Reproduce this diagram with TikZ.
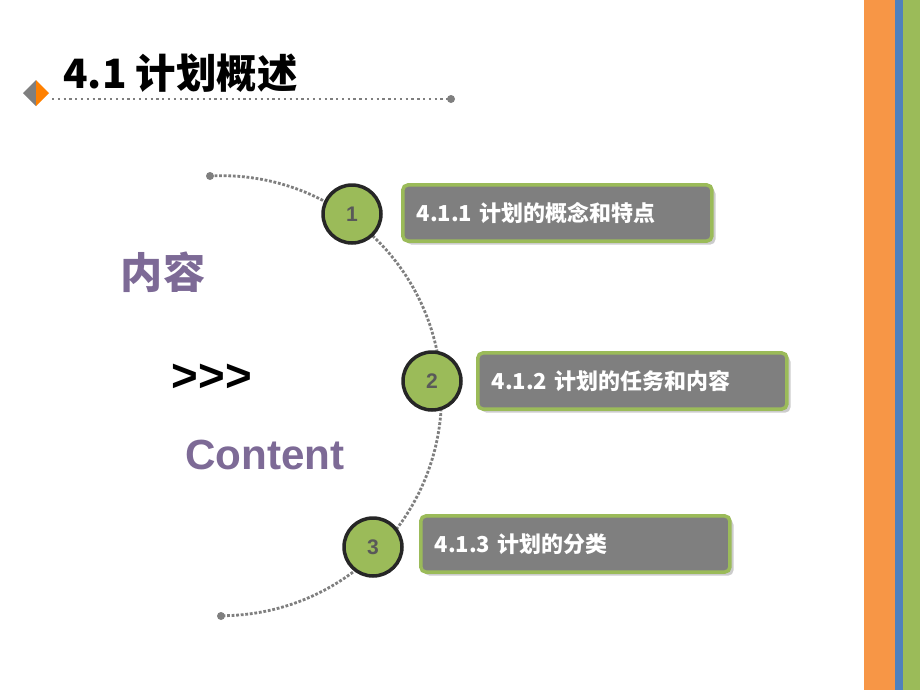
\documentclass[tikz,border=0pt]{standalone}
\usepackage{fontspec}
\setmainfont{Liberation Sans}
\newfontfamily\cjk{Noto Sans CJK SC}
\usetikzlibrary{shadows}
\definecolor{leaf}{HTML}{9BBB59}
\definecolor{tang}{HTML}{F79646}
\definecolor{sky}{HTML}{4F81BD}
\definecolor{plum}{HTML}{7D6A96}
\definecolor{slate}{HTML}{7F7F7F}
\tikzset{
  numdot/.style={circle,draw=black!85,line width=2pt,fill=leaf,minimum size=33pt,inner sep=0pt,
    font=\bfseries\fontsize{12}{12}\selectfont,text=slate!70!black},
  item/.style={rounded corners=3pt,draw=leaf,line width=2pt,fill=slate,
    minimum width=176pt,minimum height=32pt,anchor=west,text=white,
    font=\cjk\bfseries\fontsize{12.5}{12.5}\selectfont,text width=160pt,align=left,
    drop shadow={shadow xshift=2pt,shadow yshift=-2pt,opacity=0.4}},
}
\begin{document}
\begin{tikzpicture}[x=0.02cm,y=-0.02cm]
        \useasboundingbox (0,0) rectangle (920,690);
        % side stripes
        \fill[tang] (864,0) rectangle (895,690);
        \fill[sky] (895,0) rectangle (903,690);
        \fill[leaf] (903,0) rectangle (920,690);
        % title
        \node[anchor=west,font=\cjk\bfseries\fontsize{23}{23}\selectfont] (title) at (57,73) {4.1 计划概述};
        \fill[slate] (36,80) -- (23,93) -- (36,106) -- cycle;
        \fill[orange] (36,80) -- (49,93) -- (36,106) -- cycle;
        \coordinate (rs) at (52,99);
        \coordinate (re) at (451,99);
        \draw[slate,line width=1.3pt,dotted] (rs) -- (re);
        \fill[slate] (re) circle(4);
        % arc
        \coordinate (top) at (210,176);
        \coordinate (bot) at (221,616);
        \draw[slate,line width=1.6pt,densely dotted] (top) arc[start angle=-93,end angle=90,radius=220];
        \fill[slate] (top) circle(4);
        \fill[slate] (bot) circle(4);
        % left texts
        \node[text=plum,font=\cjk\bfseries\fontsize{24}{24}\selectfont] (nr) at (163,272) {内容};
        \node[font=\bfseries\fontsize{26}{26}\selectfont] (arr) at (212,378) {>{}>{}>};
        \node[text=plum,font=\bfseries\fontsize{24}{24}\selectfont] (ct) at (265,455) {Content};
        % steps
        \foreach \n/\x/\y/\bx/\by/\t in {1/352/214/401/213/4.1.1 计划的概念和特点,
          2/432/381/476/381/4.1.2 计划的任务和内容,
          3/373/547/419/544/4.1.3 计划的分类} {
            \node[item] (box\n) at (\bx,\by) {\t};
            \node[numdot] (c\n) at (\x,\y) {\n};
        }
      \end{tikzpicture}
\end{document}
